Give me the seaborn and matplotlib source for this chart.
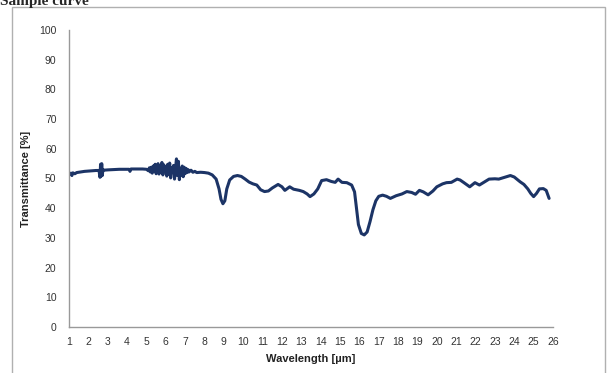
"""
Transmittance sample curve
"""
import pandas as pd
import seaborn as sns
import matplotlib
matplotlib.use('Agg')
import matplotlib.pyplot as plt
from matplotlib.patches import Rectangle

# ==================== data ====================
wavelength = [
    1.0, 1.1, 1.15, 1.2, 1.3, 1.4, 1.6, 1.8, 2.0, 2.2, 2.4, 2.55, 2.6, 2.63, 2.66,
    2.69, 2.72, 2.75, 2.8, 3.0, 3.3, 3.6, 3.9, 4.1, 4.15, 4.2, 4.5, 4.8, 5.0,
    5.1, 5.15, 5.2, 5.25, 5.3, 5.35, 5.4, 5.45, 5.5, 5.55, 5.6, 5.65, 5.7, 5.75,
    5.8, 5.85, 5.9, 5.95, 6.0, 6.05, 6.1, 6.15, 6.2, 6.25, 6.3, 6.35, 6.4, 6.45,
    6.5, 6.55, 6.6, 6.65, 6.7, 6.75, 6.8, 6.85, 6.9, 6.95, 7.0, 7.05, 7.1, 7.15,
    7.2, 7.3, 7.4, 7.5, 7.6,
    7.8, 8.0, 8.2, 8.4, 8.6, 8.75, 8.85, 8.95, 9.05, 9.15, 9.3, 9.5, 9.7, 9.9,
    10.1, 10.3, 10.5, 10.7, 10.9, 11.1, 11.3, 11.5, 11.8, 12.0, 12.15, 12.4, 12.6,
    12.9, 13.1, 13.3, 13.45, 13.65, 13.85, 14.05, 14.3, 14.55, 14.75, 14.9, 15.1,
    15.35, 15.6, 15.75, 15.85, 15.95, 16.1, 16.25, 16.4, 16.55, 16.7, 16.85, 17.0,
    17.2, 17.4, 17.6, 17.9, 18.2, 18.45, 18.7, 18.9, 19.1, 19.3, 19.55, 19.8, 20.0,
    20.3, 20.5, 20.75, 21.05, 21.2, 21.4, 21.7, 21.97, 22.2, 22.45, 22.7, 23.0,
    23.2, 23.5, 23.8, 24.0, 24.3, 24.5, 24.7, 24.85, 25.0, 25.15, 25.3, 25.5,
    25.65, 25.8,
]
transmittance = [
    51.2, 51.8, 51.0, 51.9, 51.6, 52.0, 52.2, 52.4, 52.5, 52.6, 52.7, 52.7, 50.4, 54.8, 50.8,
    55.0, 51.0, 53.0, 52.8, 52.9, 53.0, 53.1, 53.1, 53.1, 52.4, 53.2, 53.2, 53.2, 53.1,
    52.6, 53.6, 52.2, 53.8, 51.8, 54.2, 52.4, 54.8, 51.6, 53.4, 55.0, 51.5, 54.0, 52.0,
    55.4, 51.2, 54.6, 52.4, 53.8, 50.8, 54.8, 51.4, 55.2, 50.2, 53.6, 52.0, 54.4, 49.8,
    53.2, 56.6, 51.0, 55.8, 49.6, 53.4, 51.2, 54.2, 50.6, 53.8, 51.6, 53.4, 52.0, 53.0,
    52.2, 52.8, 52.1, 52.4, 52.0,
    52.1, 52.0, 51.8, 51.2, 49.8, 46.5, 43.0, 41.5, 42.5, 46.5, 49.5, 50.7, 51.0, 50.7,
    49.8, 48.8, 48.2, 47.8, 46.2, 45.6, 45.8, 46.8, 48.0, 47.2, 46.0, 47.2, 46.4,
    46.0, 45.6, 44.8, 43.9, 44.8, 46.5, 49.3, 49.6, 49.0, 48.7, 49.8, 48.7,
    48.6, 47.8, 45.5, 40.0, 34.5, 31.5, 31.0, 32.0, 35.5, 39.5, 42.5, 44.0,
    44.4, 44.0, 43.3, 44.2, 44.8, 45.6, 45.3, 44.7, 46.0, 45.5, 44.5, 45.8, 47.2,
    48.2, 48.6, 48.7, 49.8, 49.5, 48.6, 47.2, 48.6, 47.8, 48.8, 49.8, 49.9,
    49.8, 50.4, 51.0, 50.5, 48.9, 48.0, 46.5, 45.0, 43.9, 45.0, 46.5, 46.6,
    46.0, 43.3,
]
x_ticks = list(range(1, 27))
y_ticks = list(range(0, 101, 10))

df = pd.DataFrame({'Wavelength': wavelength, 'Transmittance': transmittance})

# ==================== figure ====================
sns.set_style('white')
plt.rcParams['font.family'] = ['Liberation Sans', 'DejaVu Sans']

fig = plt.figure(figsize=(6.08, 3.73), dpi=100)
ax = fig.add_axes([0.1135, 0.1233, 0.796, 0.7963])

sns.lineplot(data=df, x='Wavelength', y='Transmittance', ax=ax,
             color='#1c3466', linewidth=2.2, estimator=None, sort=False)

ax.set_xlim(1, 26)
ax.set_ylim(0, 100)
ax.set_xticks(x_ticks)
ax.set_yticks(y_ticks)
ax.tick_params(axis='both', labelsize=7.5, colors='#333333', length=3,
               width=0.8, direction='out')
ax.tick_params(axis='x', pad=4)
ax.tick_params(axis='y', pad=6)
ax.tick_params(axis='both', color='#999999')
for side in ['top', 'right']:
    ax.spines[side].set_visible(False)
for side in ['left', 'bottom']:
    ax.spines[side].set_color('#999999')
    ax.spines[side].set_linewidth(1.0)

ax.set_xlabel('Wavelength [µm]', fontsize=8, fontweight='bold', color='#222222', labelpad=5)
ax.set_ylabel('Transmittance [%]', fontsize=8, fontweight='bold', color='#222222', labelpad=6)

# outer frame and title (partly above the frame, as in the source)
frame = Rectangle((12 / 608, -0.05), (605 - 12) / 608, 1.05 - 7 / 373,
                  transform=fig.transFigure, fill=False, edgecolor='#b0b0b0',
                  linewidth=1.0, clip_on=False)
fig.patches.append(frame)
fig.text(0.0, 1 - 5 / 373, 'Sample curve', fontsize=11, fontweight='bold',
         family=['Liberation Serif', 'DejaVu Serif'], va='baseline', ha='left')

plt.savefig('out.png', dpi=100)
plt.close('all')
